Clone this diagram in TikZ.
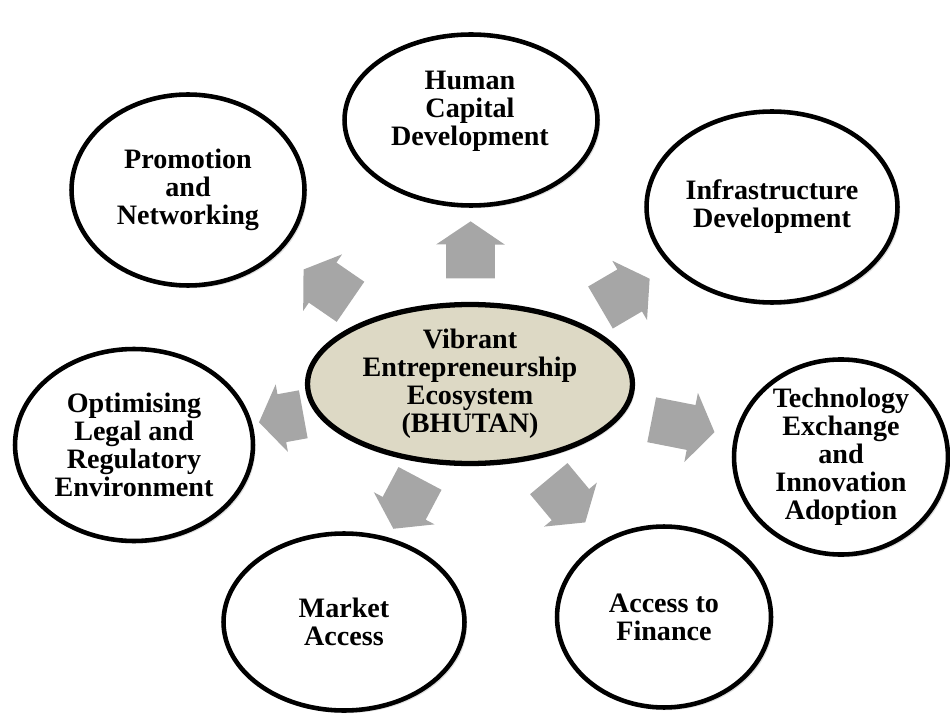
\documentclass[tikz,border=0pt]{standalone}
\usepackage{fontspec}
\setmainfont{Liberation Serif}
\usetikzlibrary{shapes.geometric,shapes.arrows,shadows}
\definecolor{hubfill}{RGB}{221,217,197}
\definecolor{arrowgray}{RGB}{166,166,166}
\begin{document}
\begin{tikzpicture}[x=0.02cm,y=-0.02cm,
    goal_text/.style={align=center,font=\bfseries\fontsize{16}{16}\selectfont},
    goal_node/.style={ellipse,draw,line width=2.6pt,fill=white,inner sep=0pt,goal_text,
      drop shadow={opacity=0.25,shadow xshift=1.5pt,shadow yshift=-1.5pt}},
    flow_arrow/.style={single arrow,fill=arrowgray,draw=none,single arrow tip angle=112,
      single arrow head extend=0.2cm,minimum height=1.14cm,
      inner xsep=0pt,inner ysep=0.48cm,sloped,allow upside down}]

    \useasboundingbox (0,0) rectangle (950,716);

    \node[goal_node,fill=hubfill,line width=3pt,minimum width=6.5cm,minimum height=3.18cm] (hub) at (470,384)
      {Vibrant\\Entrepreneurship\\Ecosystem\\(BHUTAN)};

    \node[goal_node,minimum width=5.06cm,minimum height=3.42cm] (hcd) at (471,120) {};
    \node[goal_text] (hcd_text) at (470,111) {Human\\Capital\\Development};
    \node[goal_node,minimum width=4.66cm,minimum height=3.82cm] (pnw) at (188,190) {Promotion\\and\\Networking};
    \node[goal_node,minimum width=5.02cm,minimum height=3.82cm] (inf) at (772,207) {Infrastructure\\Development};
    \node[goal_node,minimum width=4.28cm,minimum height=3.9cm] (tech) at (841,457) {Technology\\Exchange\\and\\Innovation\\Adoption};
    \node[goal_node,minimum width=4.28cm,minimum height=3.62cm] (fin) at (664,617) {Access to\\Finance};
    \node[goal_node,minimum width=4.82cm,minimum height=3.54cm] (mkt) at (344,622) {Market\\Access};
    \node[goal_node,minimum width=4.76cm,minimum height=3.84cm] (legal) at (134,445) {Optimising\\Legal and\\Regulatory\\Environment};

    \path (hub.center) -- node[flow_arrow,pos=0.477] (arr_hcd) {} (hcd.center);
    \path (hub.center) -- node[flow_arrow,pos=0.483] (arr_pnw) {} (pnw.center);
    \path (hub.center) -- node[flow_arrow,pos=0.49] (arr_inf) {} (inf.center);
    \path (hub.center) -- node[flow_arrow,pos=0.554,minimum height=1.28cm,inner ysep=0.45cm,single arrow head extend=0.25cm] (arr_tech) {} (tech.center);
    \path (hub.center) -- node[flow_arrow,pos=0.473] (arr_fin) {} (fin.center);
    \path (hub.center) -- node[flow_arrow,pos=0.472] (arr_mkt) {} (mkt.center);
    \path (hub.center) -- node[flow_arrow,pos=0.538,minimum height=0.9cm] (arr_legal) {} (legal.center);
\end{tikzpicture}
\end{document}
